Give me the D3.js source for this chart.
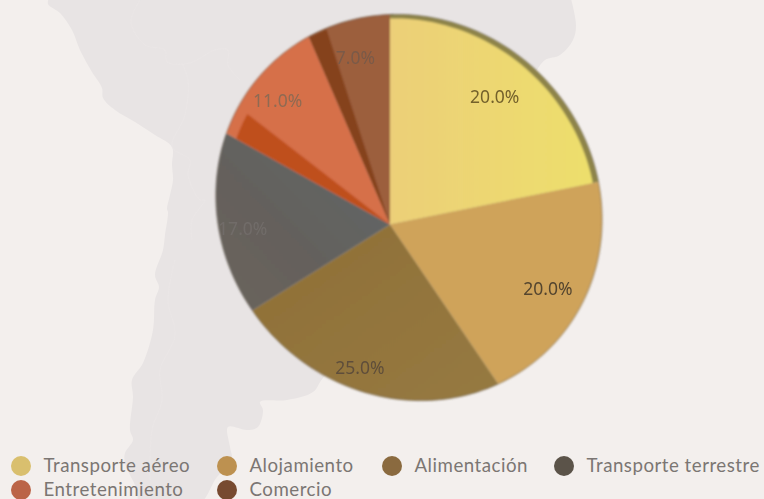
<!DOCTYPE html>
<html><head><meta charset="utf-8">
<script src="https://cdn.jsdelivr.net/npm/d3@7"></script>
<style>html,body{margin:0;padding:0;background:#f3efed;overflow:hidden}</style>
</head><body><svg id="c" width="764" height="499"></svg>
<script>
// ---------- data ----------
const categories = ["Transporte aéreo","Alojamiento","Alimentación","Transporte terrestre","Entretenimiento","Comercio"];
const percentages = [20,20,25,17,11,7];
// shares as actually drawn: the source pie is warped by a 3D tilt
const drawnShares = [21.8,18.7,25.6,17.0,10.4,6.5];
// dark side band at the start of a slice (share units)
const bandShares = [0,0,0,0,2.4,1.5];
const legendColors = ["#d9bf6e","#bd9150","#8a6a3f","#5b5349","#bb6447","#774a30"];
const sliceColors = ["#eed872","#cfa35a","#93743c","#67625c","#d66f48","#9c5f3e"];
const bandColors = [null,null,null,null,"#bf4f1c","#85431c"];
const labelColors = ["#74622c","#54452f","#5f4e3a","#716c69","#8f6a52","#7a5a48"];
// ---------- layout ----------
const W=764,H=499;
const apex=[390,224.5];
const rim={cx:409,cy:207.5,a:199,b:187,rot:Math.PI/4};
const rimInner={cx:406,cy:209,a:196.5,b:184.5,rot:Math.PI/4};
const labelReach=[.78,.82,.87,.86,.85,.82];
const legendCols=[21,227,392,564];
const legendRows=[466,490];
const mapOutline=[[50,-5],[48,4],[60,13],[72,30],[80,50],[92,72],[102,88],[103,98],[115,110],[135,122],[155,135],[172,147],[172,165],[173,180],[170,195],[167,209],[168,212],[165,235],[163,250],[155,275],[159,287],[155,300],[153,330],[143,363],[132,380],[133,397],[130,430],[133,440],[125,453],[125,463],[137,490],[140,505],[198,505],[217,477],[232,462],[230,447],[228,427],[247,430],[258,427],[263,410],[260,402],[287,400],[313,392],[323,378],[400,300],[530,75],[535,72],[545,60],[560,55],[573,40],[576,25],[570,-5]];
const mapBorders=[[[140,0],[131,22],[145,45],[165,50],[167,62],[190,63],[215,50],[228,50],[228,65],[240,80]],[[182,63],[188,80],[185,115],[172,147],[190,160],[188,175],[200,200],[205,200],[192,220],[192,240]],[[175,260],[168,300],[175,335],[160,370],[162,400],[152,430],[150,480]]];

const svg=d3.select("#c");
const defs=svg.append("defs");
defs.append("filter").attr("id","soft").append("feGaussianBlur").attr("stdDeviation",0.8);
defs.append("filter").attr("id","softer").append("feGaussianBlur").attr("stdDeviation",0.5);
const g1=defs.append("linearGradient").attr("id","sl0").attr("x1",0).attr("x2",1).attr("y1",0).attr("y2",0);
g1.append("stop").attr("offset",0).attr("stop-color","#eccf78");
g1.append("stop").attr("offset",1).attr("stop-color","#eddf6c");
const g3=defs.append("linearGradient").attr("id","sl2").attr("x1",0).attr("x2",1).attr("y1",0).attr("y2",1);
g3.append("stop").attr("offset",0).attr("stop-color","#8f6f36");
g3.append("stop").attr("offset",1).attr("stop-color","#967a42");
const g4=defs.append("linearGradient").attr("id","sl3").attr("x1",1).attr("x2",0).attr("y1",0).attr("y2",1);
g4.append("stop").attr("offset",0).attr("stop-color","#5f686a");
g4.append("stop").attr("offset",.6).attr("stop-color","#65615c");
g4.append("stop").attr("offset",1).attr("stop-color","#6a645d");

svg.append("rect").attr("width",W).attr("height",H).attr("fill","#f3efed");

// background map
const line=d3.line().curve(d3.curveCatmullRom.alpha(.5));
svg.append("path").attr("d",line(mapOutline)+"Z").attr("fill","#e8e4e4");
svg.append("g").selectAll("path").data(mapBorders).join("path").attr("d",line)
  .attr("fill","none").attr("stroke","#ebe7e6").attr("stroke-width",.7);

// rim intersection: ray from the apex at a clockwise-from-top angle meets a rotated ellipse
function rimPoint(angle,e){
  const dx=Math.sin(angle),dy=-Math.cos(angle);
  const c=Math.cos(e.rot),s=Math.sin(e.rot);
  const ox=apex[0]-e.cx,oy=apex[1]-e.cy;
  const px=(ox*c+oy*s)/e.a,py=(-ox*s+oy*c)/e.b;
  const qx=(dx*c+dy*s)/e.a,qy=(-dx*s+dy*c)/e.b;
  const A=qx*qx+qy*qy,B=2*(px*qx+py*qy),C=px*px+py*py-1;
  const t=(-B+Math.sqrt(B*B-4*A*C))/(2*A);
  return {x:apex[0]+dx*t,y:apex[1]+dy*t,t,dx,dy};
}
function wedge(a0,a1,e,reach=1){
  const n=Math.max(2,Math.ceil((a1-a0)/0.03));
  const pts=d3.range(n+1).map(i=>{const p=rimPoint(a0+(a1-a0)*i/n,e);
    return [apex[0]+p.dx*p.t*reach,apex[1]+p.dy*p.t*reach];});
  return "M"+apex+"L"+pts.map(p=>p.join(",")).join("L")+"Z";
}

const pie=d3.pie().sort(null)(drawnShares);
const perShare=2*Math.PI/d3.sum(drawnShares);
const pieG=svg.append("g").attr("filter","url(#soft)");

// olive rim behind the first slice
pieG.append("path").attr("d",wedge(pie[0].startAngle,pie[0].endAngle,rim)).attr("fill","#8e844a");
pieG.selectAll("path.s").data(pie).join("path").attr("class","s")
  .attr("d",(d,i)=>wedge(d.startAngle,d.endAngle,i===0?rimInner:rim))
  .attr("fill",(d,i)=>i===0?"url(#sl0)":i===2?"url(#sl2)":i===3?"url(#sl3)":sliceColors[i]);
pieG.selectAll("path.b").data(pie.filter((d,i)=>bandColors[i])).join("path").attr("class","b")
  .attr("d",d=>wedge(d.startAngle,d.startAngle+bandShares[d.index]*perShare,rim,d.index===4?.94:.995))
  .attr("fill",d=>bandColors[d.index]);
// thin dark outline along the rim
const rimLine=d3.line()(d3.range(0,2*Math.PI+.02,.02).map(a=>{const p=rimPoint(a,rim);return [p.x,p.y];}));
pieG.append("path").attr("d",rimLine).attr("fill","none").attr("stroke","#4d4436").attr("stroke-opacity",.55).attr("stroke-width",1);

// percentage labels
svg.append("g").attr("filter","url(#softer)").selectAll("text").data(pie).join("text")
  .attr("x",(d,i)=>{const p=rimPoint((d.startAngle+d.endAngle)/2,rim);return apex[0]+p.dx*p.t*labelReach[i];})
  .attr("y",(d,i)=>{const p=rimPoint((d.startAngle+d.endAngle)/2,rim);return apex[1]+p.dy*p.t*labelReach[i];})
  .attr("dy","0.36em").attr("text-anchor","middle")
  .attr("font-family","'Noto Sans',sans-serif").attr("font-size",17.5)
  .attr("fill",(d,i)=>labelColors[i])
  .text((d,i)=>d3.format(".1f")(percentages[i])+"%");

// legend
const leg=svg.append("g").selectAll("g").data(categories).join("g")
  .attr("transform",(d,i)=>`translate(${legendCols[i%4]},${legendRows[Math.floor(i/4)]})`);
leg.append("circle").attr("r",10).attr("fill",(d,i)=>legendColors[i]);
leg.append("text").attr("x",22.5).attr("dy","0.33em")
  .attr("font-family","Lato,sans-serif").attr("font-size",18.7).attr("fill","#7b7673")
  .attr("letter-spacing",.5).text(d=>d);
</script></body></html>
